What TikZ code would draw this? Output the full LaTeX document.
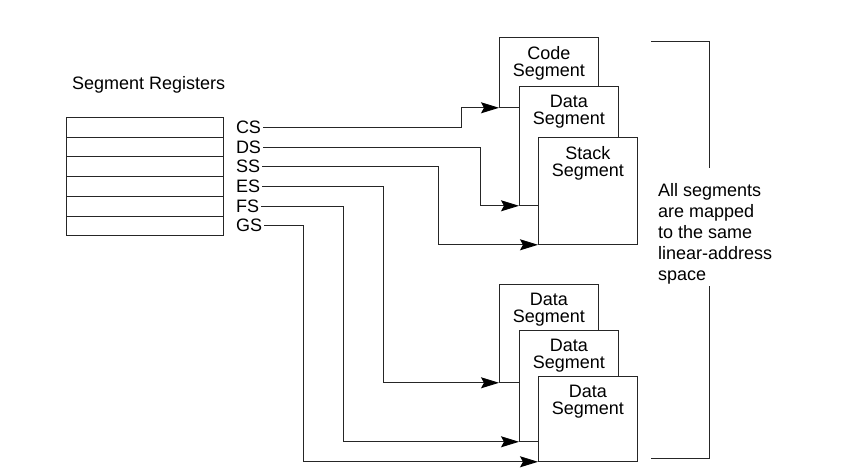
\documentclass[tikz,border=0pt]{standalone}
\usepackage{fontspec}
\setmainfont{Liberation Sans}
\usepackage{tikz}
\usetikzlibrary{arrows.meta,positioning}

\tikzset{
  reg/.style={draw=black!85, line width=0.8pt, minimum width=157pt, minimum height=19.7pt, anchor=north west, inner sep=0pt},
  reglabel/.style={inner sep=2pt, anchor=west, font=\fontsize{18}{18}\selectfont},
  seg/.style={draw=black!85, fill=white, line width=0.8pt, minimum width=99pt, anchor=north west, inner sep=0pt},
  segtext/.style={anchor=north, align=center, inner sep=0pt, font=\fontsize{18}{17}\selectfont},
  wire/.style={draw=black!85, line width=0.8pt},
  arr/.style={wire, -{Stealth[length=18pt,width=11pt,inset=3pt,black]}}
}

\begin{document}
\begin{tikzpicture}[x=1pt,y=-1pt]
        \useasboundingbox (0,0) rectangle (841,476);

        \node[anchor=west, inner sep=0pt, font=\fontsize{18}{18}\selectfont] (title) at (72,85) {Segment Registers};

        \node[reg] (rCS) at (66,117) {};
        \node[reg] (rDS) at (66,136.7) {};
        \node[reg] (rSS) at (66,156.4) {};
        \node[reg] (rES) at (66,176.1) {};
        \node[reg] (rFS) at (66,195.8) {};
        \node[reg] (rGS) at (66,215.5) {};

        \node[reglabel, right=10pt of rCS] (lCS) {CS};
        \node[reglabel, right=10pt of rDS] (lDS) {DS};
        \node[reglabel, right=10pt of rSS] (lSS) {SS};
        \node[reglabel, right=10pt of rES] (lES) {ES};
        \node[reglabel, right=10pt of rFS] (lFS) {FS};
        \node[reglabel, right=10pt of rGS] (lGS) {GS};

        % upper group
        \node[seg, minimum height=70pt] (code) at (499,37) {};
        \node[segtext] at ([yshift=-9pt]code.north) {Code\\Segment};
        \node[seg, minimum height=119pt] (data) at (519,86) {};
        \node[segtext] at ([yshift=-9pt]data.north) {Data\\Segment};
        \node[seg, minimum height=107pt] (stack) at (538,137) {};
        \node[segtext] at ([yshift=-9pt]stack.north) {Stack\\Segment};

        % lower group
        \node[seg, minimum height=98pt] (dataA) at (499,284) {};
        \node[segtext] at ([yshift=-9pt]dataA.north) {Data\\Segment};
        \node[seg, minimum height=111pt] (dataB) at (519,330) {};
        \node[segtext] at ([yshift=-9pt]dataB.north) {Data\\Segment};
        \node[seg, minimum height=85pt] (dataC) at (538,376) {};
        \node[segtext] at ([yshift=-9pt]dataC.north) {Data\\Segment};

        \coordinate (jCS) at (461,0);
        \coordinate (jDS) at (480,0);
        \coordinate (jSS) at (438,0);
        \coordinate (jES) at (383,0);
        \coordinate (jFS) at (343,0);
        \coordinate (jGS) at (303,0);

        \draw[arr] (lCS.east) -- (lCS.east -| jCS) |- (code.south west);
        \draw[arr] (lDS.east) -- (lDS.east -| jDS) |- (data.south west);
        \draw[arr] (lSS.east) -- (lSS.east -| jSS) |- (stack.south west);
        \draw[arr] (lES.east) -- (lES.east -| jES) |- (dataA.south west);
        \draw[arr] (lFS.east) -- (lFS.east -| jFS) |- (dataB.south west);
        \draw[arr] (lGS.east) -- (lGS.east -| jGS) |- (dataC.south west);

        % bracket and note
        \node[anchor=north west, align=left, inner sep=0pt, font=\fontsize{18}{21}\selectfont] (note) at (658,183)
          {All segments\\are mapped\\to the same\\linear-address\\space};
        \draw[wire] (651,41) -| (709,168);
        \draw[wire] (709,286) |- (651,458);
\end{tikzpicture}
\end{document}
